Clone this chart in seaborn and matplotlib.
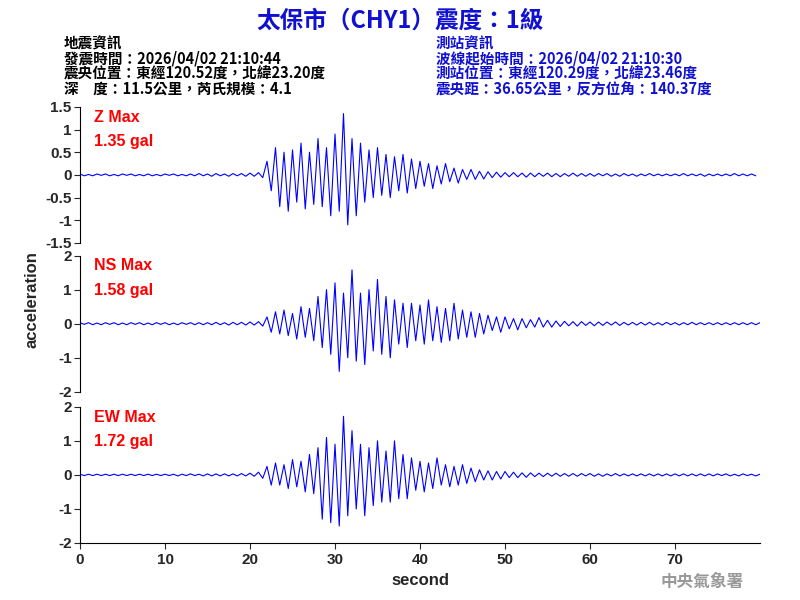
import matplotlib
matplotlib.use("Agg")
import matplotlib.pyplot as plt
import seaborn as sns
import numpy as np
import pandas as pd

sns.set_style("white")
plt.rcParams['font.family'] = ['Noto Sans CJK TC', 'DejaVu Sans']

dt = 0.5
z_acc = [0.02,-0.02,0.01,-0.02,0.02,-0.01,0.02,-0.02,0.01,-0.02,0.02,-0.01,0.02,-0.02,0.01,-0.02,0.02,-0.02,0.01,-0.02,
         0.02,-0.01,0.02,-0.02,0.01,-0.02,0.02,-0.02,0.03,-0.02,0.02,-0.03,0.03,-0.02,0.02,-0.03,0.03,-0.02,0.03,-0.03,
         0.04,-0.03,0.05,-0.06,
         0.3,-0.35,0.6,-0.7,0.5,-0.8,0.55,-0.6,0.7,-0.75,0.5,-0.65,0.8,-0.7,0.6,-0.9,
         0.9,-0.8,1.35,-1.1,0.8,-0.9,0.7,-0.6,
         0.55,-0.5,0.6,-0.45,0.45,-0.5,0.4,-0.35,0.45,-0.4,0.35,-0.3,
         0.3,-0.25,0.25,-0.3,0.2,-0.2,0.25,-0.15,0.15,-0.18,0.12,-0.1,0.12,-0.1,0.08,-0.09,0.07,-0.06,0.06,-0.05,
         0.05,-0.04,0.05,-0.04,0.04,-0.05,0.04,-0.04,0.04,-0.03,0.04,-0.04,0.03,-0.04,0.03,-0.03,0.04,-0.03,0.03,-0.03,
         0.03,-0.03,0.03,-0.02,0.03,-0.03,0.02,-0.03,0.03,-0.02,0.02,-0.03,0.02,-0.02,0.03,-0.02,0.02,-0.02,0.02,-0.02,
         0.02,-0.02,0.03,-0.02,0.02,-0.02,0.02,-0.03,0.02,-0.02,0.02,-0.02,0.02,-0.02,0.03,-0.02,0.02,-0.02,0.02,-0.02]
ns_acc = [0.03,-0.02,0.03,-0.03,0.02,-0.03,0.03,-0.02,0.03,-0.03,0.02,-0.03,0.03,-0.02,0.03,-0.03,0.02,-0.03,0.03,-0.02,
          0.03,-0.03,0.02,-0.03,0.03,-0.02,0.03,-0.03,0.03,-0.03,0.03,-0.03,0.04,-0.03,0.03,-0.04,0.04,-0.03,0.04,-0.04,
          0.05,-0.04,0.06,-0.07,
          0.2,-0.25,0.35,-0.3,0.4,-0.35,0.3,-0.45,0.5,-0.4,0.45,-0.5,0.8,-0.7,1.0,-0.9,
          1.2,-1.4,0.9,-1.0,1.58,-1.1,0.9,-1.2,1.0,-0.8,1.3,-0.9,0.8,-1.0,
          0.7,-0.6,0.6,-0.7,0.6,-0.5,0.55,-0.6,0.7,-0.5,0.5,-0.55,0.45,-0.5,0.6,-0.45,0.4,-0.4,0.35,-0.4,0.3,-0.3,
          0.25,-0.2,0.2,-0.25,0.2,-0.15,0.15,-0.18,0.15,-0.12,0.12,-0.1,0.18,-0.1,0.1,-0.1,0.08,-0.08,
          0.07,-0.06,0.06,-0.07,0.06,-0.05,0.05,-0.06,0.05,-0.05,0.05,-0.04,0.05,-0.05,0.04,-0.04,0.04,-0.04,0.04,-0.04,
          0.04,-0.04,0.03,-0.04,0.04,-0.03,0.03,-0.04,0.03,-0.03,0.04,-0.03,0.03,-0.03,0.03,-0.03,0.03,-0.03,0.03,-0.03,
          0.03,-0.03,0.03,-0.03,0.03,-0.03,0.03,-0.03]
ew_acc = [0.02,-0.02,0.02,-0.02,0.02,-0.02,0.02,-0.02,0.02,-0.02,0.02,-0.02,0.02,-0.02,0.02,-0.02,0.02,-0.02,0.02,-0.02,
          0.02,-0.02,0.02,-0.03,0.02,-0.02,0.03,-0.02,0.02,-0.03,0.03,-0.03,0.03,-0.03,0.03,-0.03,0.03,-0.03,0.04,-0.03,
          0.05,-0.04,0.08,-0.1,
          0.25,-0.3,0.35,-0.3,0.3,-0.4,0.45,-0.35,0.4,-0.5,0.6,-0.55,0.8,-1.3,
          1.1,-1.4,0.9,-1.5,1.72,-1.2,1.3,-1.0,0.9,-1.2,0.8,-0.9,1.0,-0.8,0.7,-0.8,1.0,-0.7,0.6,-0.7,
          0.5,-0.45,0.4,-0.5,0.35,-0.4,0.5,-0.3,0.3,-0.35,0.25,-0.3,0.3,-0.25,0.2,-0.2,
          0.15,-0.15,0.12,-0.15,0.1,-0.12,0.1,-0.08,0.08,-0.08,0.06,-0.07,0.06,-0.05,
          0.05,-0.05,0.05,-0.04,0.05,-0.04,0.04,-0.04,0.04,-0.04,0.04,-0.03,0.04,-0.04,0.03,-0.04,0.03,-0.03,0.04,-0.03,
          0.03,-0.03,0.03,-0.03,0.03,-0.03,0.03,-0.03,0.03,-0.03,0.03,-0.03,0.03,-0.03,0.03,-0.03,0.03,-0.03,0.03,-0.03,
          0.03,-0.03,0.03,-0.02,0.03,-0.03,0.02,-0.03,0.03,-0.02,0.02,-0.03,0.02,-0.02]
labels = ["Z Max", "NS Max", "EW Max"]
peaks = ["1.35 gal", "1.58 gal", "1.72 gal"]
ylims = [(-1.5, 1.5), (-2, 2), (-2, 2)]
yticks = [[-1.5, -1, -0.5, 0, 0.5, 1, 1.5], [-2, -1, 0, 1, 2], [-2, -1, 0, 1, 2]]

LAT = "Liberation Sans"
fig = plt.figure(figsize=(8, 6), dpi=100)
bottoms = [0.595, 0.347, 0.095]
series = [z_acc, ns_acc, ew_acc]
for i, (b, s) in enumerate(zip(bottoms, series)):
    ax = fig.add_axes([0.1, b, 0.85, 0.227])
    df = pd.DataFrame({"t": np.arange(len(s)) * dt, "a": s})
    sns.lineplot(data=df, x="t", y="a", ax=ax, color="blue", linewidth=0.8)
    ax.set_xlim(0, 80)
    ax.set_ylim(*ylims[i])
    ax.set_yticks(yticks[i])
    ax.set_yticklabels([f"{v:g}" for v in yticks[i]], fontsize=11, family=LAT, fontweight="bold")
    ax.tick_params(axis="y", length=4, left=True, pad=2)
    for sp in ["top", "right"]:
        ax.spines[sp].set_visible(False)
    ax.spines["left"].set_color("black")
    ax.set_ylabel("")
    ax.set_xlabel("")
    ax.text(0.02, 0.98, labels[i], transform=ax.transAxes, color="red", fontsize=11.5, va="top", family=LAT, fontweight="bold")
    ax.text(0.02, 0.80, peaks[i], transform=ax.transAxes, color="red", fontsize=11.5, va="top", family=LAT, fontweight="bold")
    if i < 2:
        ax.spines["bottom"].set_visible(False)
        ax.set_xticks([])
    else:
        ax.spines["bottom"].set_color("black")
        ax.set_xticks(range(0, 80, 10))
        ax.set_xticklabels([str(v) for v in range(0, 80, 10)], fontsize=11, family=LAT, fontweight="bold")
        ax.tick_params(axis="x", length=4, bottom=True)
        ax.set_xlabel("second", fontsize=12, family=LAT, fontweight="bold")

fig.text(0.04, 0.5, "acceleration", rotation=90, va="center", ha="center", fontsize=12, family=LAT, fontweight="bold")
fig.text(0.5, 0.965, "太保市（CHY1）震度：1級", color="#1010d0", fontsize=17, fontweight="bold", ha="center", va="center")
left_lines = ["地震資訊", "發震時間：2026/04/02 21:10:44", "震央位置：東經120.52度，北緯23.20度", "深　度：11.5公里，芮氏規模：4.1"]
right_lines = ["測站資訊", "波線起始時間：2026/04/02 21:10:30", "測站位置：東經120.29度，北緯23.46度", "震央距：36.65公里，反方位角：140.37度"]
for k, (l, r) in enumerate(zip(left_lines, right_lines)):
    y = 0.928 - k * 0.0255
    fig.text(0.08, y, l, fontsize=10.5, fontweight="bold", color="black", va="center")
    fig.text(0.545, y, r, fontsize=10.5, fontweight="bold", color="#1010d0", va="center")
fig.text(0.93, 0.03, "中央氣象署", fontsize=12, fontweight="bold", color="#999999", ha="right", va="center")
fig.savefig("out.png", dpi=100)
